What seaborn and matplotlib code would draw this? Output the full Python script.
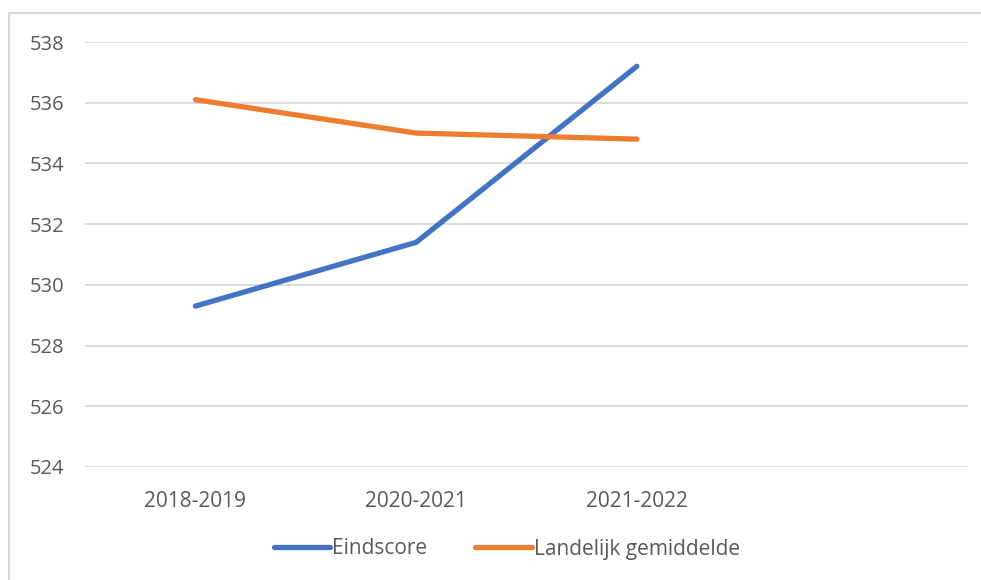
import matplotlib
matplotlib.use("Agg")
import matplotlib.pyplot as plt
import seaborn as sns
import pandas as pd
import numpy as np
from matplotlib.patches import Rectangle
from matplotlib.lines import Line2D

categories = ["2018-2019", "2020-2021", "2021-2022", ""]
eindscore = [529.3, 531.4, 537.2, np.nan]
landelijk = [536.1, 535.0, 534.8, np.nan]
series_names = ["Eindscore", "Landelijk gemiddelde"]
colors = ["#4472C4", "#ED7D31"]
yticks = [524, 526, 528, 530, 532, 534, 536, 538]

df = pd.DataFrame({
    "pos": list(range(len(categories))) * 2,
    "value": eindscore + landelijk,
    "series": [series_names[0]] * len(categories) + [series_names[1]] * len(categories),
})

sns.set_theme(style="white")
plt.rcParams["font.family"] = ["Open Sans", "DejaVu Sans"]

fig = plt.figure(figsize=(9.81, 5.8), dpi=100)
ax = fig.add_axes([85/981, 1-467/580, (968-85)/981, (467-42)/580])

sns.lineplot(data=df, x="pos", y="value", hue="series", palette=colors,
             linewidth=3.8, ax=ax, legend=False, sort=False)
for ln in ax.get_lines():
    ln.set_solid_capstyle("round")

ax.set_xlim(-0.5, len(categories) - 0.5)
ax.set_ylim(524, 538)
ax.set_yticks(yticks)
ax.set_xticks(range(len(categories)))
ax.set_xticklabels(categories)
ax.yaxis.grid(True, color="#D9D9D9", linewidth=1.3)
ax.xaxis.grid(False)
for s in ax.spines.values():
    s.set_visible(False)
ax.tick_params(axis="both", length=0, colors="#595959")
ax.tick_params(axis="x", pad=17, labelsize=15)
ax.tick_params(axis="y", pad=15, labelsize=14.5)
ax.set_xlabel("")
ax.set_ylabel("")

handles = [Line2D([0], [0], color=c, linewidth=3.8, solid_capstyle="round") for c in colors]
fig.legend(handles, series_names, loc="center", bbox_to_anchor=(507/981, 1-549/580),
           ncol=2, frameon=False, fontsize=15, labelcolor="#595959",
           handlelength=2.7, handletextpad=0.1, columnspacing=2.3)

fig.patches.append(Rectangle((9/981, -0.1), 1.2, 1-13/580+0.1, transform=fig.transFigure,
                             fill=False, edgecolor="#D9D9D9", linewidth=1.5))

fig.savefig("out.png", dpi=100)
